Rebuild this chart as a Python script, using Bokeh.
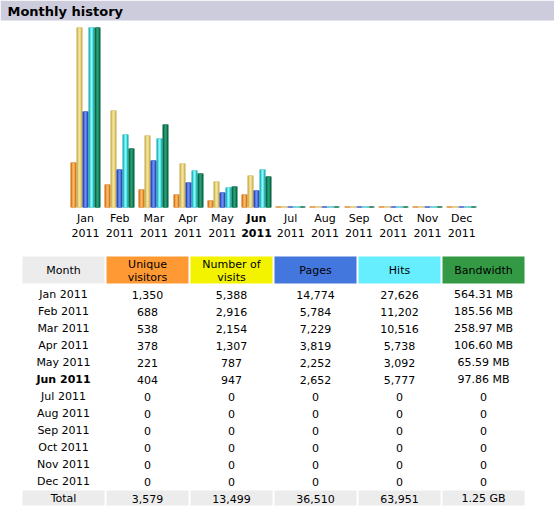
from bokeh.plotting import figure
from bokeh.models import ColumnDataSource, Range1d
from bokeh.core.properties import value
from bokeh.embed import file_html
from bokeh.resources import INLINE

# ---------------- data ----------------
months = ["Jan", "Feb", "Mar", "Apr", "May", "Jun", "Jul", "Aug", "Sep", "Oct", "Nov", "Dec"]
year = "2011"
current_month = "Jun"
unique_visitors = [1350, 688, 538, 378, 221, 404, 0, 0, 0, 0, 0, 0]
visits = [5388, 2916, 2154, 1307, 787, 947, 0, 0, 0, 0, 0, 0]
pages = [14774, 5784, 7229, 3819, 2252, 2652, 0, 0, 0, 0, 0, 0]
hits = [27626, 11202, 10516, 5738, 3092, 5777, 0, 0, 0, 0, 0, 0]
bandwidth_mb = [564.31, 185.56, 258.97, 106.60, 65.59, 97.86, 0, 0, 0, 0, 0, 0]
column_titles = [["Month"], ["Unique", "visitors"], ["Number of", "visits"], ["Pages"], ["Hits"], ["Bandwidth"]]
title = "Monthly history"

# ---------------- styles ----------------
FONT = value("DejaVu Sans")
header_colors = ["#ECECEC", "#FF9933", "#F3F300", "#4477DD", "#66EEFF", "#339944"]
# nested layers: outer (6px), middle (4px), inner (2px)
bar_gradients = [
    ["#C8680C", "#E8902E", "#F8B868"],   # unique
    ["#C4A844", "#DEC86C", "#F2E4A0"],   # visits
    ["#2038A8", "#3C60D0", "#6A8EF0"],   # pages
    ["#14A4AC", "#34D0D8", "#8CF6F6"],   # hits
    ["#005C3A", "#0A7C52", "#2C9C74"],   # bandwidth
]

W, H = 554, 507
p = figure(width=W, height=H, output_backend="svg", toolbar_location=None,
           x_range=Range1d(0, W), y_range=Range1d(H, 0), min_border=0)
p.axis.visible = False
p.grid.visible = False
p.outline_line_color = None
p.background_fill_color = "white"
p.border_fill_color = "white"

# ---------------- title bar ----------------
p.quad(left=[0], right=[W], top=[0], bottom=[20], fill_color="#CCCCDD", line_color=None)
p.text(x=[7], y=[11], text=[title], text_font=FONT, text_font_size="13px",
       text_font_style="bold", text_baseline="middle", text_align="left", text_color="#000000")

# ---------------- bar chart ----------------
base = 207
full = 180.0
group0 = 85.0
step = 34.2
bw = 6
series = [unique_visitors, visits, pages, hits, bandwidth_mb]
scale_max = [max(visits), max(visits), max(hits), max(hits), max(bandwidth_mb)]

for layer in range(3):
    L, R, T, B, C = [], [], [], [], []
    for i in range(len(months)):
        gc = group0 + step * i
        gl = round(gc - 15)
        for j, s in enumerate(series):
            h = max(round(s[i] / scale_max[j] * full), 1)
            x0 = gl + bw * j
            L.append(x0 + layer)
            R.append(x0 + bw - layer)
            T.append(base - h)
            B.append(base)
            C.append(bar_gradients[j][layer])
    p.quad(source=ColumnDataSource(dict(left=L, right=R, top=T, bottom=B, color=C)),
           left="left", right="right", top="top", bottom="bottom",
           fill_color="color", fill_alpha=1.0, line_color=None)

for i, m in enumerate(months):
    gc = group0 + step * i
    style = "bold" if m == current_month else "normal"
    p.text(x=[gc, gc], y=[218, 232], text=[m, year], text_font=FONT, text_font_size="11px",
           text_font_style=style, text_align="center", text_baseline="middle", text_color="#000000")

# ---------------- table ----------------
col_left0 = 22
col_w = 82
col_step = 84
hdr_top, hdr_bot = 256, 283
row0 = 294
row_step = 17

for c in range(6):
    l = col_left0 + col_step * c
    p.quad(left=[l], right=[l + col_w], top=[hdr_top], bottom=[hdr_bot],
           fill_color=header_colors[c], line_color=None)
    cx = l + col_w / 2
    lines = column_titles[c]
    if len(lines) == 1:
        ys = [270]
    else:
        ys = [264, 277]
    p.text(x=[cx] * len(lines), y=ys, text=lines, text_font=FONT, text_font_size="11px",
           text_align="center", text_baseline="middle", text_color="#000000")

def fmt_int(v):
    return f"{v:,}"

def fmt_bw(v):
    return f"{v:.2f} MB" if v > 0 else "0"

centers = [col_left0 + col_step * c + col_w / 2 for c in range(6)]
for i, m in enumerate(months):
    y = row0 + row_step * i
    vals = [f"{m} {year}", fmt_int(unique_visitors[i]), fmt_int(visits[i]),
            fmt_int(pages[i]), fmt_int(hits[i]), fmt_bw(bandwidth_mb[i])]
    style = "bold" if m == current_month else "normal"
    for c in range(6):
        p.text(x=[centers[c]], y=[y], text=[vals[c]], text_font=FONT, text_font_size="11px",
               text_font_style=style if c == 0 else "normal",
               text_align="center", text_baseline="middle", text_color="#000000")

# totals
ty = row0 + row_step * len(months)
total_vals = ["Total", fmt_int(sum(unique_visitors)), fmt_int(sum(visits)),
              fmt_int(sum(pages)), fmt_int(sum(hits)), f"{sum(bandwidth_mb) / 1024:.2f} GB"]
for c in range(6):
    l = col_left0 + col_step * c
    p.quad(left=[l], right=[l + col_w], top=[ty - 8], bottom=[ty + 7],
           fill_color="#ECECEC", line_color=None)
    p.text(x=[centers[c]], y=[ty], text=[total_vals[c]], text_font=FONT, text_font_size="11px",
           text_align="center", text_baseline="middle", text_color="#000000")

open("out.html", "w").write(file_html(p, INLINE))
